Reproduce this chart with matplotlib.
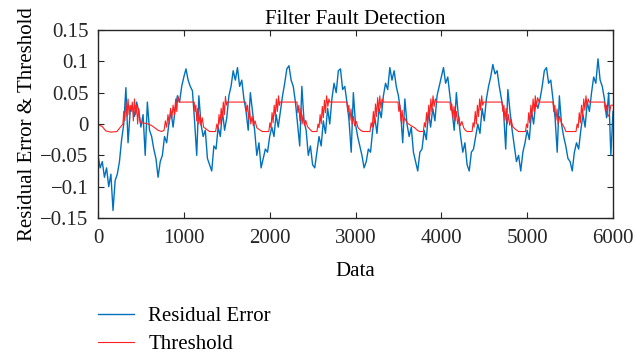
import matplotlib.pyplot as plt
import numpy as np

# residual error, sampled every 25 data points (0 .. 6000)
data_x = np.arange(0, 6001, 25)
residual = [
    # 0 - 1000
    -0.05, -0.07, -0.06, -0.085, -0.07, -0.1, -0.08, -0.138, -0.09, -0.08,
    -0.06, -0.025, 0.0, 0.058, -0.03, 0.02, 0.03, 0.012, 0.035, 0.02,
    -0.005, 0.015, -0.05, 0.035, -0.01, -0.02, -0.04, -0.055, -0.085, -0.06,
    -0.05, -0.02, -0.03, 0.0, 0.02, -0.005, 0.025, 0.045, 0.035, 0.06,
    # 1000 - 2000
    0.075, 0.088, 0.07, 0.06, 0.053, 0.005, -0.05, 0.045, 0.0, -0.02,
    -0.01, -0.055, -0.065, -0.075, -0.035, -0.04, -0.005, -0.02, 0.02, -0.01,
    0.01, 0.045, 0.06, 0.085, 0.07, 0.09, 0.06, 0.07, 0.04, 0.02,
    -0.01, 0.05, 0.02, -0.01, -0.05, -0.03, -0.07, -0.055, -0.04, -0.045,
    # 2000 - 3000
    -0.02, -0.005, -0.02, 0.015, -0.005, 0.02, 0.045, 0.065, 0.088, 0.093,
    0.07, 0.06, 0.035, 0.0, -0.035, 0.06, 0.005, -0.01, -0.05, -0.035,
    -0.065, -0.07, -0.045, -0.02, -0.035, 0.005, -0.015, 0.025, 0.0, 0.04,
    0.065, 0.05, 0.085, 0.088, 0.055, 0.06, 0.035, 0.005, -0.045, 0.05,
    # 3000 - 4000
    0.0, -0.02, -0.035, -0.05, -0.07, -0.06, -0.04, -0.045, -0.01, 0.01,
    -0.015, 0.025, 0.01, 0.045, 0.065, 0.055, 0.09, 0.07, 0.085, 0.06,
    0.045, 0.02, -0.03, 0.04, 0.0, -0.02, -0.005, -0.045, -0.06, -0.075,
    -0.045, -0.04, -0.01, -0.025, 0.02, -0.005, 0.025, 0.005, 0.045, 0.06,
    # 4000 - 5000
    0.075, 0.09, 0.065, 0.075, 0.045, 0.02, -0.01, 0.05, 0.01, -0.02,
    -0.045, -0.03, -0.065, -0.075, -0.045, -0.04, -0.02, 0.0, -0.015, 0.025,
    0.005, 0.04, 0.06, 0.075, 0.095, 0.08, 0.085, 0.06, 0.04, 0.02,
    -0.04, 0.055, 0.02, -0.01, -0.035, -0.06, -0.05, -0.075, -0.045, -0.03,
    # 5000 - 6000
    -0.01, -0.025, 0.02, 0.0, 0.035, 0.025, 0.04, 0.06, 0.085, 0.09,
    0.065, 0.07, 0.04, 0.01, -0.045, 0.045, 0.0, -0.02, -0.035, -0.055,
    -0.06, -0.075, -0.045, -0.03, -0.04, -0.01, 0.015, -0.005, 0.035, 0.02,
    0.05, 0.075, 0.065, 0.104, 0.07, 0.06, 0.04, 0.01, 0.05, -0.05,
    0.02,
]

# threshold, read at uneven positions
thr_x = [
    0, 50, 90, 150, 220, 260, 290, 300, 312, 325, 338, 350, 362, 375, 388, 400,
    412, 425, 438, 450, 462, 475, 490, 500, 560, 620, 660, 700, 740, 770,
    785, 800, 815, 830, 845, 860, 875, 890, 905, 918, 930, 945,
    1120, 1130, 1140, 1150, 1162, 1175, 1188, 1200, 1215, 1230, 1260, 1300, 1370,
    1385, 1398, 1410, 1422, 1435, 1448, 1460, 1472, 1485, 1497, 1507,
    1720, 1730, 1742, 1755, 1768, 1780, 1795, 1810, 1830, 1850, 1880, 1914, 1990,
    2003, 2015, 2028, 2040, 2053, 2065, 2078, 2090, 2103, 2113, 2120,
    2318, 2328, 2340, 2352, 2365, 2378, 2390, 2405, 2420, 2440, 2465, 2493, 2551,
    2563, 2575, 2588, 2600, 2613, 2625, 2638, 2650, 2663, 2678, 2690, 2700,
    2900, 2910, 2922, 2935, 2948, 2960, 2975, 2990, 3010, 3030, 3060, 3087, 3169,
    3182, 3195, 3208, 3220, 3233, 3245, 3258, 3270, 3283, 3296, 3310, 3324,
    3495, 3505, 3517, 3530, 3543, 3556, 3570, 3600, 3640, 3690, 3720, 3748, 3790,
    3803, 3815, 3828, 3840, 3853, 3865, 3878, 3890, 3903, 3916, 3930, 3945,
    4100, 4110, 4122, 4135, 4148, 4160, 4175, 4190, 4205, 4220, 4240, 4260, 4280,
    4300, 4358, 4370, 4382, 4395, 4408, 4420, 4433, 4446, 4458, 4470, 4482, 4494,
    4707, 4717, 4729, 4742, 4755, 4768, 4782, 4796, 4812, 4830, 4860, 4900, 4980,
    4993, 5005, 5018, 5030, 5043, 5056, 5069, 5082, 5095, 5108, 5122, 5140,
    5300, 5310, 5322, 5335, 5348, 5360, 5375, 5400, 5430, 5452, 5569,
    5582, 5594, 5607, 5620, 5633, 5646, 5659, 5672, 5685, 5698, 5711, 5724,
    5900, 5912, 5925, 5940, 5957, 5975, 6000,
]
thr_y = [
    -0.001, -0.004, -0.011, -0.013, -0.012, -0.005, 0.0, 0.02, 0.005, 0.035, 0.012, 0.04, 0.015, 0.03, 0.02, 0.035,
    0.005, 0.04, 0.015, 0.03, 0.0, 0.025, 0.005, 0.002, 0.001, -0.002, -0.006, -0.01, -0.012, -0.01,
    0.005, -0.005, 0.015, 0.0, 0.025, 0.01, 0.03, 0.015, 0.04, 0.02, 0.045, 0.035,
    0.035, 0.02, 0.03, 0.005, 0.025, 0.0, 0.015, -0.002, 0.01, -0.005, -0.008, -0.012, -0.012,
    0.0, -0.008, 0.015, 0.0, 0.025, 0.01, 0.035, 0.015, 0.044, 0.03, 0.035,
    0.035, 0.02, 0.03, 0.008, 0.022, 0.0, 0.012, -0.003, 0.005, -0.006, -0.009, -0.012, -0.012,
    0.002, -0.006, 0.018, 0.002, 0.03, 0.012, 0.04, 0.02, 0.045, 0.03, 0.035,
    0.035, 0.018, 0.03, 0.005, 0.025, 0.0, 0.015, -0.002, 0.006, -0.004, -0.008, -0.012, -0.012,
    0.0, -0.006, 0.015, 0.0, 0.028, 0.01, 0.038, 0.018, 0.045, 0.028, 0.04, 0.035,
    0.035, 0.02, 0.03, 0.006, 0.024, 0.0, 0.012, -0.003, 0.004, -0.006, -0.01, -0.012, -0.012,
    0.002, -0.005, 0.02, 0.002, 0.032, 0.012, 0.042, 0.02, 0.045, 0.025, 0.04, 0.035,
    0.035, 0.02, 0.03, 0.005, 0.022, 0.0, 0.01, 0.002, -0.002, -0.006, -0.01, -0.012, -0.012,
    0.002, -0.005, 0.018, 0.0, 0.03, 0.012, 0.04, 0.02, 0.045, 0.028, 0.04, 0.035,
    0.035, 0.022, 0.032, 0.01, 0.028, 0.005, 0.02, 0.0, 0.012, -0.003, 0.004, -0.006, -0.01,
    -0.012, -0.012, 0.002, -0.005, 0.02, 0.0, 0.03, 0.012, 0.04, 0.022, 0.045, 0.03, 0.035,
    0.035, 0.02, 0.03, 0.006, 0.025, 0.0, 0.015, -0.002, 0.008, -0.004, -0.008, -0.012, -0.012,
    0.0, -0.006, 0.018, 0.002, 0.03, 0.012, 0.04, 0.02, 0.045, 0.028, 0.042, 0.035,
    0.035, 0.02, 0.03, 0.006, 0.024, 0.0, 0.012, 0.002, -0.005, -0.012, -0.012,
    0.0, -0.006, 0.018, 0.002, 0.03, 0.012, 0.04, 0.022, 0.045, 0.028, 0.04, 0.035,
    0.035, 0.02, 0.03, 0.012, 0.015, 0.03, 0.03,
]

x_ticks = [0, 1000, 2000, 3000, 4000, 5000, 6000]
y_ticks = [-0.15, -0.1, -0.05, 0, 0.05, 0.1, 0.15]
y_labels = ['\u22120.15', '\u22120.1', '\u22120.05', '0', '0.05', '0.1', '0.15']

plt.rcParams['font.family'] = ['Liberation Serif', 'DejaVu Serif']
fs = 15

fig = plt.figure(figsize=(6.35, 3.53), dpi=100)
ax = fig.add_axes([98/635, 1-218/353, 515/635, 188/353])

ax.plot(data_x, residual, color='#0072BD', lw=1.0, label='Residual Error')
ax.plot(thr_x, thr_y, color='#ff2020', lw=0.8, label='Threshold')

ax.set_xlim(0, 6000)
ax.set_ylim(-0.15, 0.15)
ax.set_xticks(x_ticks)
ax.set_yticks(y_ticks)
ax.set_yticklabels(y_labels)
ax.tick_params(direction='in', top=True, right=True, length=4, width=0.8,
               labelsize=fs, colors='#262626')
ax.tick_params(axis='x', pad=8)
ax.tick_params(axis='y', pad=7)
for s in ax.spines.values():
    s.set_color('#262626')
    s.set_linewidth(1.0)

ax.set_title('Filter Fault Detection', fontsize=fs, pad=4)
ax.set_xlabel('Data', fontsize=fs, labelpad=10)
ax.set_ylabel('Residual Error & Threshold', fontsize=fs, labelpad=2)

fig.legend(loc='center left', bbox_to_anchor=(0.155, 0.064), frameon=False,
           fontsize=fs, handlelength=1.7, handletextpad=0.7, labelspacing=0.4,
           borderpad=0, borderaxespad=0)

fig.savefig('out.png', dpi=100)
